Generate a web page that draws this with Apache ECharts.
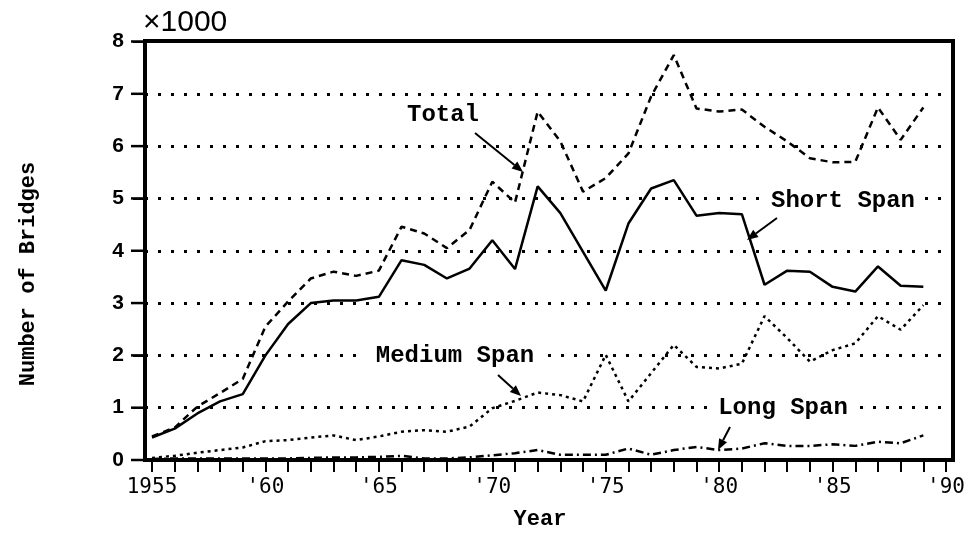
<!DOCTYPE html>
<html>
<head>
<meta charset="utf-8">
<script src="https://cdn.jsdelivr.net/npm/echarts@6/dist/echarts.min.js"></script>
<style>html,body{margin:0;padding:0;background:#fff}#c{width:968px;height:543px}</style>
</head>
<body>
<div id="c"></div>
<script>
const years = [1955,1956,1957,1958,1959,1960,1961,1962,1963,1964,1965,1966,1967,1968,1969,1970,1971,1972,1973,1974,1975,1976,1977,1978,1979,1980,1981,1982,1983,1984,1985,1986,1987,1988,1989];
const total  = [0.45,0.62,1.02,1.28,1.55,2.55,3.03,3.47,3.6,3.52,3.62,4.46,4.33,4.05,4.4,5.32,4.92,6.66,6.09,5.13,5.39,5.86,6.95,7.74,6.72,6.66,6.7,6.37,6.09,5.77,5.69,5.7,6.74,6.12,6.74];
const shortSpan = [0.43,0.6,0.89,1.12,1.26,2.0,2.6,3.0,3.05,3.05,3.12,3.82,3.73,3.47,3.66,4.2,3.65,5.23,4.72,3.98,3.24,4.52,5.19,5.35,4.67,4.72,4.7,3.35,3.62,3.6,3.31,3.22,3.7,3.33,3.31];
const mediumSpan = [0.04,0.08,0.14,0.19,0.24,0.36,0.38,0.43,0.47,0.38,0.45,0.54,0.57,0.54,0.64,0.99,1.13,1.29,1.24,1.12,2.01,1.12,1.66,2.2,1.78,1.75,1.84,2.75,2.33,1.88,2.1,2.23,2.75,2.49,2.96];
const longSpan = [0.02,0.03,0.03,0.03,0.03,0.03,0.03,0.04,0.05,0.05,0.06,0.08,0.03,0.03,0.05,0.09,0.13,0.19,0.1,0.1,0.1,0.22,0.1,0.19,0.25,0.19,0.22,0.32,0.27,0.27,0.3,0.27,0.35,0.32,0.47];
const yTicks = [0,1,2,3,4,5,6,7,8];

const pair = arr => years.map((y, i) => [y, arr[i]]);
const chart = echarts.init(document.getElementById('c'), null, {renderer: 'canvas'});

const GRID_TOP = 41.5, GRID_BOTTOM_PX = 460;

function arrow(x1, y1, x2, y2) {
  const ang = Math.atan2(y2 - y1, x2 - x1), L = 11, W = 4.5;
  const bx = x2 - L * Math.cos(ang), by = y2 - L * Math.sin(ang);
  const px = -Math.sin(ang) * W, py = Math.cos(ang) * W;
  return [
    {type: 'line', shape: {x1, y1, x2: bx, y2: by}, style: {stroke: '#000', lineWidth: 2}, z: 20},
    {type: 'polygon', shape: {points: [[x2, y2], [bx + px, by + py], [bx - px, by - py]]}, style: {fill: '#000'}, z: 20}
  ];
}
const annFont = {fontFamily: 'Liberation Mono', fontWeight: 'bold', fontSize: 24, fill: '#000'};
function label(text, cx, cy, bg) {
  return {type: 'text', x: cx, y: cy, z: 15,
    style: Object.assign({text, align: 'center', verticalAlign: 'middle',
      backgroundColor: bg ? '#fff' : null, padding: bg ? [2, 10] : 0}, annFont)};
}

// outward y-axis tick marks (decoration along the axis frame)
const tickMarks = yTicks.map(v => {
  const py = GRID_BOTTOM_PX - (v / 8) * (GRID_BOTTOM_PX - GRID_TOP);
  return {type: 'polyline', shape: {points: [[131, py], [146, py]]}, style: {stroke: '#000', lineWidth: 2.5}, z: 40};
});

chart.setOption({
  animation: false,
  backgroundColor: '#fff',
  grid: [
    {left: 152, right: 20, top: GRID_TOP, bottom: 543 - GRID_BOTTOM_PX, containLabel: false},
    {left: 145, right: 15, top: GRID_TOP, bottom: 543 - GRID_BOTTOM_PX, containLabel: false}
  ],
  xAxis: [{
    gridIndex: 0, type: 'value', min: 1955, max: 1990, interval: 1,
    axisLine: {show: false},
    axisTick: {show: true, length: 12, lineStyle: {color: '#000', width: 2}},
    axisLabel: {
      color: '#000', fontFamily: 'DejaVu Sans Mono', fontSize: 21, margin: 17,
      formatter: v => v === 1955 ? '1955' : (v % 5 === 0 ? "'" + String(v).slice(2) : '')
    },
    splitLine: {show: false}
  }, {
    gridIndex: 1, type: 'value', min: 0, max: 1, show: false
  }],
  yAxis: [{
    gridIndex: 0, type: 'value', min: 0, max: 8, show: false
  }, {
    gridIndex: 1, type: 'value', min: 0, max: 8, interval: 1,
    axisLine: {show: true, lineStyle: {color: '#000', width: 4}},
    axisTick: {show: true, length: 12, lineStyle: {color: '#000', width: 2}},
    axisLabel: {color: '#000', fontFamily: 'Liberation Sans', fontWeight: 'bold', fontSize: 21, margin: 21,
      formatter: v => yTicks.includes(v) ? String(v) : ''},
    splitLine: {show: true, lineStyle: {color: '#000', width: 3, type: [3, 10]}}
  }],
  series: [
    {name: 'Total', type: 'line', data: pair(total), showSymbol: false, z: 5,
      lineStyle: {color: '#000', width: 2.5, type: [7, 5]}},
    {name: 'Short Span', type: 'line', data: pair(shortSpan), showSymbol: false, z: 5,
      lineStyle: {color: '#000', width: 2.5, type: 'solid'}},
    {name: 'Medium Span', type: 'line', data: pair(mediumSpan), showSymbol: false, z: 5,
      lineStyle: {color: '#000', width: 2.5, type: [3, 4]}},
    {name: 'Long Span', type: 'line', data: pair(longSpan), showSymbol: false, z: 5,
      lineStyle: {color: '#000', width: 2.5, type: [8, 4, 2, 4]}}
  ],
  graphic: [
    {type: 'rect', shape: {x: 145, y: 41, width: 808, height: 419}, style: {fill: null, stroke: '#000', lineWidth: 4}, z: 30},
    {type: 'text', x: 143, y: 23, style: {text: '×1000', fontFamily: 'Liberation Sans', fontSize: 30, fill: '#000', verticalAlign: 'middle'}},
    {type: 'text', x: 540, y: 519, style: {text: 'Year', fontFamily: 'Liberation Mono', fontWeight: 'bold', fontSize: 22, fill: '#000', align: 'center', verticalAlign: 'middle'}},
    {type: 'text', x: 28, y: 274, rotation: Math.PI / 2, style: {text: 'Number of Bridges', fontFamily: 'Liberation Mono', fontWeight: 'bold', fontSize: 22, fill: '#000', align: 'center', verticalAlign: 'middle'}},
    label('Total', 443, 115, false),
    label('Short Span', 843, 201, true),
    label('Medium Span', 455, 356, true),
    label('Long Span', 783, 408, true),
    ...arrow(475, 133, 523, 172),
    ...arrow(777, 218, 747, 240),
    ...arrow(498, 375, 521, 396),
    ...arrow(730, 427, 718, 450),
    ...tickMarks
  ]
});
</script>
</body>
</html>
